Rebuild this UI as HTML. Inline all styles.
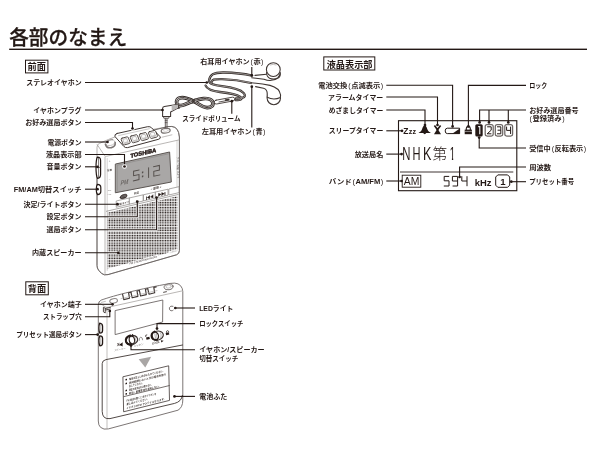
<!DOCTYPE html>
<html lang="ja">
<head>
<meta charset="utf-8">
<title>各部のなまえ</title>
<style>
html,body{margin:0;padding:0;background:#fff;}
body{width:600px;height:450px;overflow:hidden;position:relative;font-family:"Liberation Sans","Noto Sans CJK JP",sans-serif;color:#231815;}
svg{position:absolute;left:0;top:0;display:block;will-change:transform;}
text{font-family:"Liberation Sans","Noto Sans CJK JP",sans-serif;fill:#231815;}
.lb{font-size:7px;font-weight:700;}
.ld{fill:none;stroke:#231815;stroke-width:1.1;}
.pr{font-weight:400;}
.dot{fill:#231815;stroke:none;}
.hd{font-size:9.4px;font-weight:700;}
.bx{fill:#fff;stroke:#231815;stroke-width:1;}
</style>
</head>
<body>
<svg width="600" height="450" viewBox="0 0 600 450">

<!-- ===== title ===== -->
<g id="title">
<text x="9.2" y="44.6" font-size="20.2" font-weight="500" textLength="118" lengthAdjust="spacingAndGlyphs" style="stroke:#231815;stroke-width:0.3px">各部のなまえ</text>
<rect x="9.2" y="48.6" width="577.8" height="1.4" fill="#231815"/>
</g>

<!-- ===== section heads ===== -->
<g id="heads">
<rect class="bx" x="25.5" y="60.2" width="22.4" height="12.7"/>
<text class="hd" x="36.7" y="70.2" text-anchor="middle" textLength="18.4" lengthAdjust="spacingAndGlyphs">前面</text>
<rect class="bx" x="25.8" y="281.8" width="22.5" height="13"/>
<text class="hd" x="37" y="291.9" text-anchor="middle" textLength="18.4" lengthAdjust="spacingAndGlyphs">背面</text>
<rect class="bx" x="323.8" y="56.9" width="51" height="13.1"/>
<text class="hd" x="349.6" y="67.7" text-anchor="middle" textLength="45.8" lengthAdjust="spacingAndGlyphs">液晶表示部</text>
</g>

<!--FRONT_START-->
<!-- ===== front view ===== -->
<g id="front" stroke-linejoin="round" stroke-linecap="round">
<path d="M97 147Q97 144.4 99.4 143.4Q108 139.4 118 135.8L168 126.7Q176.5 125.2 178.6 132.5L179.4 137V250.6Q179.4 253.8 176.5 254.8L108 274.6Q104 275.6 101.5 273.4L98.6 270.2Q97 268.2 97 265.6Z" fill="#fff" stroke="#aaa6a4" stroke-width="0.9"/>
<path d="M97 170V265.6Q97 268.2 98.6 270.2L101.5 273.4Q104 275.6 108 274.6L176.5 254.8Q179.4 253.8 179.4 250.6V137L178.6 132.5Q176.5 125.2 168 126.6L152 130.5" fill="none" stroke="#6d6765" stroke-width="1"/>
<path d="M97.2 144.6L104.4 155.4Q105.2 156.6 106.8 156.2L179 139.9" fill="none" stroke="#a8a4a2" stroke-width="0.8"/>
<path d="M105 157V274" fill="none" stroke="#a8a4a2" stroke-width="0.8"/>
<polyline points="107.2,158.5 107.2,270.4" stroke="#a8a4a2" stroke-width="0.5" fill="none"/>
<polyline points="177.0,140.4 177.0,191.6" stroke="#a8a4a2" stroke-width="0.5" fill="none"/>
<path d="M97.2 157.2Q100.6 157 100.6 160.5V174.5Q100.6 178 97.6 178.4Q96 176 96 167.5Q96 160 97.2 157.2Z" fill="#fff" stroke="#231815" stroke-width="1.2"/>
<path d="M96.2 167.4H100.4M98.6 158V177.6" fill="none" stroke="#3e3532" stroke-width="0.7"/>
<path d="M97.4 184.4Q100.8 184.6 100.8 187.4V191.4Q100.8 194.2 97.6 194.6Q96.2 192.6 96.2 189.4Q96.2 186.2 97.4 184.4Z" fill="#fff" stroke="#231815" stroke-width="1.2"/>
<ellipse cx="110.2" cy="142.6" rx="4.6" ry="2.9" transform="rotate(-14 110.2 142.6)" fill="#fff" stroke="#bdbab9" stroke-width="0.8"/>
<path d="M107.6 141.2Q109.4 139.6 112.6 139.8" fill="none" stroke="#8a8583" stroke-width="1.1"/>
<path d="M105.4 144.2Q106.6 148.6 111.4 147.6Q115.6 146.6 115.2 142.6" fill="none" stroke="#7d7775" stroke-width="1.6"/>
<path d="M117 133.5L147.6 126.7Q150.2 126.3 151.6 127.8L160 136.6Q161.2 138.4 158.8 139.2L127.6 147.6Q125.4 148 124 146.6L115 136.6Q114 134.4 117 133.5Z" fill="#fff" stroke="#3e3532" stroke-width="1"/>
<path d="M118.6 135.6L149.4 128.7" fill="none" stroke="#a8a4a2" stroke-width="0.6"/>
<g transform="translate(0.00 -0.00)">
<path d="M122 138.2L126.9 136.9Q127.9 136.7 128.3 137.6L130.1 142.2Q130.4 143.2 129.4 143.5L124.4 144.9Q123.4 145.1 123 144.2L121.2 139.6Q120.9 138.6 122 138.2Z" fill="#fff" stroke="#3e3532" stroke-width="0.9"/>
<path d="M123.2 139.3L126.6 138.4L128.3 142.5L124.8 143.5Z" fill="#fbfbfb" stroke="#8a8583" stroke-width="0.5"/>
<path d="M124.8 143.5L128.3 142.5L127.8 141.3L124.4 142.3Z" fill="#c4c1c0" stroke="none"/>
</g>
<g transform="translate(9.10 -2.15)">
<path d="M122 138.2L126.9 136.9Q127.9 136.7 128.3 137.6L130.1 142.2Q130.4 143.2 129.4 143.5L124.4 144.9Q123.4 145.1 123 144.2L121.2 139.6Q120.9 138.6 122 138.2Z" fill="#fff" stroke="#3e3532" stroke-width="0.9"/>
<path d="M123.2 139.3L126.6 138.4L128.3 142.5L124.8 143.5Z" fill="#fbfbfb" stroke="#8a8583" stroke-width="0.5"/>
<path d="M124.8 143.5L128.3 142.5L127.8 141.3L124.4 142.3Z" fill="#c4c1c0" stroke="none"/>
</g>
<g transform="translate(18.20 -4.30)">
<path d="M122 138.2L126.9 136.9Q127.9 136.7 128.3 137.6L130.1 142.2Q130.4 143.2 129.4 143.5L124.4 144.9Q123.4 145.1 123 144.2L121.2 139.6Q120.9 138.6 122 138.2Z" fill="#fff" stroke="#3e3532" stroke-width="0.9"/>
<path d="M123.2 139.3L126.6 138.4L128.3 142.5L124.8 143.5Z" fill="#fbfbfb" stroke="#8a8583" stroke-width="0.5"/>
<path d="M124.8 143.5L128.3 142.5L127.8 141.3L124.4 142.3Z" fill="#c4c1c0" stroke="none"/>
</g>
<g transform="translate(27.30 -6.45)">
<path d="M122 138.2L126.9 136.9Q127.9 136.7 128.3 137.6L130.1 142.2Q130.4 143.2 129.4 143.5L124.4 144.9Q123.4 145.1 123 144.2L121.2 139.6Q120.9 138.6 122 138.2Z" fill="#fff" stroke="#3e3532" stroke-width="0.9"/>
<path d="M123.2 139.3L126.6 138.4L128.3 142.5L124.8 143.5Z" fill="#fbfbfb" stroke="#8a8583" stroke-width="0.5"/>
<path d="M124.8 143.5L128.3 142.5L127.8 141.3L124.4 142.3Z" fill="#c4c1c0" stroke="none"/>
</g>
<circle cx="132.5" cy="128.6" r="2.2" fill="#fff"/>
<ellipse cx="165.7" cy="130.7" rx="4.5" ry="2.3" transform="rotate(-8 165.7 130.7)" fill="#fff" stroke="#77716f" stroke-width="1.2"/>
<ellipse cx="165.7" cy="130.6" rx="2.4" ry="1" transform="rotate(-8 165.7 130.6)" fill="#fff" stroke="#c4c1c0" stroke-width="0.5"/>
<path d="M162 137.2L172 134.8" fill="none" stroke="#a8a4a2" stroke-width="0.7" stroke-dasharray="1.2 0.6"/>
<text transform="translate(130.4 157.9) skewY(-13) " x="0" y="0" font-size="5.8" font-weight="700" textLength="25.8" lengthAdjust="spacingAndGlyphs" style="fill:#231815;stroke:#231815;stroke-width:0.45px">TOSHIBA</text>
<polygon points="115.7,164.0 169.6,152.0 171.3,182.0 115.7,192.7" fill="#a9a7a6" stroke="#5b5552" stroke-width="1"/>
<polyline points="117.2,191.2 117.2,165.2 168.6,153.8" fill="none" stroke="#8a8684" stroke-width="0.6"/>
<g transform="translate(133 180.9) skewY(-12.5)" fill="none" stroke="#544e4b" stroke-width="0.95" stroke-linecap="square" stroke-linejoin="miter">
<path d="M6 -9.6H0.6V-5H6V0H0.4"/>
<path d="M9.6 -6.6V-6.2M9.6 -2.6V-2.2" stroke-width="1.4"/>
<path d="M15.6 -9.6V0"/>
<path d="M20.6 -9.6H26.4V-5H20.8V0H26.8"/>
</g>
<text transform="translate(120.6 185.4) skewY(-12.5)" font-size="6.8" font-style="italic" textLength="7.8" lengthAdjust="spacingAndGlyphs" style="fill:#544e4b">PM</text>
<text x="109.6" y="162.0" font-size="3" text-anchor="middle" style="fill:#8a8684">+</text>
<text x="109.6" y="180.7" font-size="3" text-anchor="middle" style="fill:#8a8684">−</text>
<text x="109.6" y="171.3" font-size="2.6" text-anchor="middle" style="fill:#4a4441">音量</text>
<text x="109.4" y="190.5" font-size="2.4" text-anchor="middle" style="fill:#6d6765">FM</text>
<text x="109.4" y="194.5" font-size="2.4" text-anchor="middle" style="fill:#6d6765">AM</text>
<text transform="translate(177.2 157) rotate(90)" font-size="2.6" textLength="21" lengthAdjust="spacingAndGlyphs" style="fill:#5b5552">ワイドFM対応 TY-SPR</text>
<path d="M120.2 197.4Q120.4 195.4 122.6 194.8L125.2 194.2Q127 194 127 195.6Q126.8 197.6 124.6 198.2L122 198.8Q120.2 199 120.2 197.4Z" fill="#3e3532" stroke="#231815" stroke-width="0.6"/>
<path d="M121.6 196.2L126 195.2M121.4 197.4L125.8 196.4" fill="none" stroke="#b9b6b5" stroke-width="0.4"/>
<polygon points="116.6,200.9 129.6,197.9 129.6,204.1 116.6,207.2" fill="#fff" stroke="#8a8583" stroke-width="0.7"/>
<polygon points="129.6,197.9 143.2,194.8 143.2,201.0 129.6,204.1" fill="#fff" stroke="#8a8583" stroke-width="0.7"/>
<polygon points="143.8,194.7 155.6,192.0 155.6,198.1 143.8,200.8" fill="#fff" stroke="#8a8583" stroke-width="0.7"/>
<polygon points="155.6,192.0 168.0,189.2 168.0,195.2 155.6,198.1" fill="#fff" stroke="#8a8583" stroke-width="0.7"/>
<polygon points="169.2,188.9 179.0,186.7 179.0,192.6 169.2,194.9" fill="#fff" stroke="#8a8583" stroke-width="0.7"/>
<text transform="translate(123.0 204.3) skewY(-13)" font-size="2.5" font-weight="700" text-anchor="middle" style="fill:#3e3532">決定/ライト</text>
<circle cx="136.5" cy="200.6" r="0.4" fill="#5b5552"/>
<text transform="translate(136.5 193.9) skewY(-13)" font-size="2.6" font-weight="700" text-anchor="middle" style="fill:#4a4441">設定</text>
<text transform="translate(156.0 189.1) skewY(-13)" font-size="2.9" font-weight="700" text-anchor="middle" style="fill:#3e3532">− 選局 +</text>
<text transform="translate(149.8 198.3) skewY(-13)" font-size="3.4" font-weight="700" text-anchor="middle" textLength="7.4" lengthAdjust="spacingAndGlyphs" style="fill:#231815;stroke:#231815;stroke-width:0.3px">|◀◀</text>
<text transform="translate(161.8 195.5) skewY(-13)" font-size="3.4" font-weight="700" text-anchor="middle" textLength="7.4" lengthAdjust="spacingAndGlyphs" style="fill:#231815;stroke:#231815;stroke-width:0.3px">▶▶|</text>
<polyline points="106.4,211.3 178.2,194.5" fill="none" stroke="#8a8583" stroke-width="0.7"/>
<clipPath id="gclip"><polygon points="107.6,212.8 177.4,196.3 177.4,250.4 107.6,268.4"/></clipPath>
<path d="M107.3 194.20H178.6M107.3 195.85H178.6M107.3 197.50H178.6M107.3 199.15H178.6M107.3 200.80H178.6M107.3 202.45H178.6M107.3 204.10H178.6M107.3 205.75H178.6M107.3 207.40H178.6M107.3 209.05H178.6M107.3 210.70H178.6M107.3 212.35H178.6M107.3 214.00H178.6M107.3 215.65H178.6M107.3 217.30H178.6M107.3 218.95H178.6M107.3 220.60H178.6M107.3 222.25H178.6M107.3 223.90H178.6M107.3 225.55H178.6M107.3 227.20H178.6M107.3 228.85H178.6M107.3 230.50H178.6M107.3 232.15H178.6M107.3 233.80H178.6M107.3 235.45H178.6M107.3 237.10H178.6M107.3 238.75H178.6M107.3 240.40H178.6M107.3 242.05H178.6M107.3 243.70H178.6M107.3 245.35H178.6M107.3 247.00H178.6M107.3 248.65H178.6M107.3 250.30H178.6M107.3 251.95H178.6M107.3 253.60H178.6M107.3 255.25H178.6M107.3 256.90H178.6M107.3 258.55H178.6M107.3 260.20H178.6M107.3 261.85H178.6M107.3 263.50H178.6M107.3 265.15H178.6M107.3 266.80H178.6M107.3 268.45H178.6M107.3 270.10H178.6M107.3 271.75H178.6" fill="none" stroke="#2b2320" stroke-width="1.05" stroke-dasharray="1.05 0.6" stroke-linecap="butt" clip-path="url(#gclip)"/>
<path d="M107 216.8H137.3V207M107 229.8H156.6V202M107 252.8H118.2" fill="none" stroke="#fff" stroke-width="2.6" stroke-linecap="butt" clip-path="url(#gclip)"/>
<polygon points="129,265.6 158,258 158,254.6 129,262.2" fill="#fff" stroke="none"/>
<text transform="translate(129.6 264.6) skewY(-14.6)" font-size="2.6" font-weight="700" textLength="27.6" lengthAdjust="spacingAndGlyphs" style="fill:#6d6765">FM STEREO/AM RADIO</text>
<polygon points="168.6,254.4 177.4,252.2 177.4,249 168.6,251.2" fill="#fff" stroke="none"/>
<text transform="translate(169.4 253.4) skewY(-14.6)" font-size="2.3" textLength="7" lengthAdjust="spacingAndGlyphs" style="fill:#8a8684">TY-SPR4</text>
</g>
<!--FRONT_END-->
<!--EAR_START-->
<!-- ===== stereo earphones ===== -->
<g id="earphones" fill="none" stroke-linecap="round" stroke-linejoin="round">
<!-- cables : dark tube with light core -->
<g stroke="#352d2a" stroke-width="2.3">
<path d="M252 75.6C245 74 235 72.7 224 72.5S210 75 209 80.5C209 84 214 85.2 222 86.2S240 89 243.6 93S243 98.6 236 98.3"/>
<path d="M251 83C243 81 232 79.3 222 79.1S212.4 80 211.6 82.2"/>
<path d="M205.6 85.6C207 89 212 91 220 92S236 94 240 96.6S239.4 100.6 235.6 100"/>
</g>
<g stroke="#d6d3d2" stroke-width="0.6">
<path d="M252 75.6C245 74 235 72.7 224 72.5S210 75 209 80.5C209 84 214 85.2 222 86.2S240 89 243.6 93S243 98.6 236 98.3"/>
<path d="M251 83C243 81 232 79.3 222 79.1S212.4 80 211.6 82.2"/>
<path d="M205.6 85.6C207 89 212 91 220 92S236 94 240 96.6S239.4 100.6 235.6 100"/>
</g>
<!-- right-ear bud (upper) -->
<path d="M255 75.4L266.6 74.3M251.6 77.7L264 79.2Q272 82.6 279.2 77.2Q280.7 75.6 280 72.6" stroke="#3e3532" stroke-width="1.1"/>
<path d="M266.6 72.4Q266.4 76.4 269.6 78.2Q273.6 80 277.6 78Q280.4 76 280 72.4" fill="#fff" stroke="#3e3532" stroke-width="1.1"/>
<circle cx="273.3" cy="69.6" r="6.9" fill="#fff" stroke="#3e3532" stroke-width="1.1"/>
<path d="M270.4 64.9Q273.2 63.6 276 64.9" stroke="#a8a4a2" stroke-width="0.7"/>
<!-- left-ear bud (lower) -->
<circle cx="273.8" cy="98" r="6.7" fill="#fff" stroke="#3e3532" stroke-width="1.1"/>
<path d="M251 82.8Q262 83.6 270 85.4Q279.6 88 280.6 95L280.3 97.4Q273.8 100.6 267.2 97.2V93Q267 89.2 263.5 88.2L255.6 86.6" fill="#fff" stroke="#3e3532" stroke-width="1.1"/>
<!-- slide volume -->
<path d="M216 100.2L232.4 97.2Q234.6 97 234.8 98.8Q234.8 100.6 232.8 101L216.6 104Q214.2 104.2 214 102.4Q214 100.6 216 100.2Z" fill="#fff" stroke="#3e3532" stroke-width="0.9"/>
<path d="M219 102L229.4 100.1" stroke="#3e3532" stroke-width="0.8"/>
<path d="M225.6 100.1L228.6 99.5" stroke="#3e3532" stroke-width="1.6"/>
<!-- bundled cord (bow) -->
<path d="M178.6 106.8C175.4 103.4 176 99.4 179.6 98C183.6 96.6 188.6 98.6 193.3 101C198.4 103.6 202.4 107.4 207 107.6C211.4 107.8 213.6 105.4 212.8 102.4C212 99.4 207.6 98.2 203.4 98.6C199.4 99 196.4 100 193.3 101C189.4 102.4 185.4 104.6 182.6 105.2C180.8 105.6 179.6 105.6 178.8 105.4" stroke="#352d2a" stroke-width="3.7"/>
<path d="M178.6 106.8C175.4 103.4 176 99.4 179.6 98C183.6 96.6 188.6 98.6 193.3 101C198.4 103.6 202.4 107.4 207 107.6C211.4 107.8 213.6 105.4 212.8 102.4C212 99.4 207.6 98.2 203.4 98.6C199.4 99 196.4 100 193.3 101C189.4 102.4 185.4 104.6 182.6 105.2C180.8 105.6 179.6 105.6 178.8 105.4" stroke="#cfcccb" stroke-width="1.9"/>
<path d="M178.6 106.8C175.4 103.4 176 99.4 179.6 98C183.6 96.6 188.6 98.6 193.3 101C198.4 103.6 202.4 107.4 207 107.6C211.4 107.8 213.6 105.4 212.8 102.4C212 99.4 207.6 98.2 203.4 98.6C199.4 99 196.4 100 193.3 101C189.4 102.4 185.4 104.6 182.6 105.2C180.8 105.6 179.6 105.6 178.8 105.4" stroke="#352d2a" stroke-width="0.9"/>
<path d="M191.6 98.6L195 103.6M195 98.6L191.8 103.6" stroke="#352d2a" stroke-width="0.8"/>
<!-- plug -->
<path d="M165.3 118V127.4M167 118V127.4" stroke="#3e3532" stroke-width="0.8"/>
<path d="M165.2 120.4H167.1M165.2 122.6H167.1" stroke="#3e3532" stroke-width="0.6"/>
<path d="M163.8 116.4H169.2L168.8 118.2H164.2Z" fill="#fff" stroke="#3e3532" stroke-width="0.8"/>
<path d="M162.6 108.6Q162.6 106.9 164.4 106.6L176.6 104.5Q178.6 104.4 178.7 106.2Q178.8 107.8 177.4 108.4L170.6 112V116.4H162.6Z" fill="#fff" stroke="#3e3532" stroke-width="1.05"/>
<path d="M171.6 105.6L177.6 104.6Q178.6 106 177.4 108.2L171.8 111Z" fill="#b9b6b5" stroke="none"/>
</g>
<!--EAR_END-->
<!--BACK_START-->
<!-- ===== back view ===== -->
<g id="back" fill="none" stroke-linejoin="round" stroke-linecap="round">
<path d="M98.3 305Q98.3 301.2 101.2 300.1C115 295.2 140 288.9 170.5 283.4Q179.6 281.8 182.2 288.4L182.8 291.5V400Q182.8 407.4 178 410.2L108.4 428.9Q103.6 430 100.6 427.4Q98.3 425.4 98.3 421.4Z" fill="#fff" stroke="#6d6765" stroke-width="0.9"/>
<path d="M98.6 302.4L105.6 307Q106.8 307.6 108.4 307.2L182.6 290.8" stroke="#a8a4a2" stroke-width="0.8"/>
<path d="M107 308V428.6" stroke="#a8a4a2" stroke-width="0.7"/>
<ellipse cx="113.6" cy="300.9" rx="3.9" ry="2.2" transform="rotate(-12 113.6 300.9)" fill="#fff" stroke="#8a8583" stroke-width="1.1"/>
<path d="M101.4 302.4L105.4 301.4" stroke="#a8a4a2" stroke-width="0.7"/>
<path d="M103.4 307.6V311.8L105.2 313V308.6ZM105.4 308.4L110.4 307.4M105.4 310L110.4 309" stroke="#3e3532" stroke-width="0.9"/>
<path d="M122.6 294.3L123.8 299.6L129.5 298.2L128.6 292.8L131.0 292.3" stroke="#3e3532" stroke-width="1.15"/>
<path d="M131.0 292.5L132.2 297.8L137.9 296.4L137.0 291.0L139.4 290.5" stroke="#3e3532" stroke-width="1.15"/>
<path d="M139.4 290.7L140.6 296.0L146.3 294.6L145.4 289.2L147.8 288.7" stroke="#3e3532" stroke-width="1.15"/>
<path d="M147.8 288.9L149.0 294.2L154.7 292.8L153.8 287.4L156.2 286.9" stroke="#3e3532" stroke-width="1.15"/>
<path d="M121 298.6L157 290.6" stroke="#a8a4a2" stroke-width="0.6"/>
<ellipse cx="168.6" cy="286.9" rx="4.5" ry="2.9" transform="rotate(-10 168.6 286.9)" fill="#fff" stroke="#6d6765" stroke-width="0.9"/>
<ellipse cx="168.6" cy="286.5" rx="2.7" ry="1.6" transform="rotate(-10 168.6 286.5)" stroke="#a8a4a2" stroke-width="0.6"/>
<path d="M163.6 292.3L166.4 291.7" stroke="#3e3532" stroke-width="0.9"/>
<polygon points="115.5,310.5 162.8,300.0 162.6,322.0 115.5,334.5" fill="#fff" stroke="#6d6765" stroke-width="0.9"/>
<path d="M173 306.2Q170.4 305.4 169.4 307.6Q168.8 310 171 310.8Q172.4 311 173.2 310.2" stroke="#6d6765" stroke-width="0.9"/>
<ellipse cx="157.4" cy="335.6" rx="6" ry="4.5" transform="rotate(-14 157.4 335.6)" fill="#fff" stroke="#3e3532" stroke-width="1.2"/>
<path d="M154.6 331.6Q150.6 333.4 151.8 337.2Q153 340.2 157 339.8" stroke="#231815" stroke-width="2"/>
<ellipse cx="155.4" cy="335.9" rx="3.1" ry="3.7" transform="rotate(-12 155.4 335.9)" fill="#fff" stroke="#231815" stroke-width="1.1"/>
<path d="M154.8 333.6L155.5 338.4M156.4 333.2L157.1 338" stroke="#6d6765" stroke-width="0.5"/>
<path d="M159.6 331.8Q162 333.6 160.8 337.6" stroke="#6d6765" stroke-width="0.5"/>
<rect x="146.2" y="337" width="3.4" height="2.4" transform="rotate(-14 148 338)" fill="#231815" stroke="none"/>
<path d="M145.6 336.6Q145 334.6 146.8 334.8" stroke="#231815" stroke-width="0.7"/>
<rect x="165.8" y="332.6" width="3.2" height="2.4" transform="rotate(-14 167.4 333.6)" fill="#231815" stroke="none"/>
<path d="M166.4 332.4Q166.2 330.6 167.6 330.6Q168.8 330.8 168.8 332" stroke="#231815" stroke-width="0.7"/>
<text transform="translate(152.2 344.5) rotate(-13)" font-size="2.9" font-weight="700" textLength="7.8" lengthAdjust="spacingAndGlyphs" style="fill:#3e3532">LOCK</text>
<path d="M160.8 340.2L163.6 340.8L161.4 342.6Z" fill="#231815" stroke="none"/>
<ellipse cx="131.7" cy="340.1" rx="6" ry="4.6" transform="rotate(-14 131.7 340.1)" fill="#fff" stroke="#3e3532" stroke-width="1.2"/>
<path d="M129.6 335.8Q125 337.6 126 341.6Q127 344.6 131 344.6" stroke="#231815" stroke-width="2"/>
<ellipse cx="131.9" cy="340" rx="2.7" ry="3.8" transform="rotate(-8 131.9 340)" fill="#fff" stroke="#231815" stroke-width="1.1"/>
<path d="M134.8 336.8Q136.4 339.4 134.8 342.6" stroke="#6d6765" stroke-width="0.5"/>
<path d="M130.4 334.8L130.9 336.8M132.6 334.4L132.9 336.4" stroke="#231815" stroke-width="0.9"/>
<path d="M119.6 344L120.8 343.7L122.6 342.2V346.4L120.8 345.4L119.6 345.6Z" fill="#231815" stroke="none"/>
<path d="M117.6 343.4L119 345.6M119 343.2L117.6 345.8" stroke="#231815" stroke-width="0.6"/>
<path d="M139.2 340.4Q138.8 337.4 140.8 337.2Q142.6 337.2 142.6 339.8" stroke="#6d6765" stroke-width="0.7"/>
<text transform="translate(114.2 351.6) rotate(-13)" font-size="2.5" textLength="12" lengthAdjust="spacingAndGlyphs" style="fill:#77716f">スピーカー</text>
<text transform="translate(134 347.2) rotate(-13)" font-size="2.5" textLength="10" lengthAdjust="spacingAndGlyphs" style="fill:#77716f">イヤホン</text>
<path d="M99.6 323.2Q102.6 323.6 102.6 326.2V330.8Q102.6 333 99.8 333.2Q98.9 331 98.9 328.2Q98.9 325.2 99.6 323.2Z" fill="#fff" stroke="#231815" stroke-width="1.2"/>
<path d="M99.8 335.8Q102.6 336 102.6 338.2V343.2Q102.6 345.6 99.8 345.8Q98.9 343.6 98.9 340.8Q98.9 337.8 99.8 335.8Z" fill="#fff" stroke="#231815" stroke-width="1.2"/>
<path d="M100.9 324.4V332.2M100.9 337V344.8" stroke="#6d6765" stroke-width="0.6"/>
<path d="M182.6 345L106 359.6Q102.2 360.4 102.2 363.6V411.4Q102.4 419.6 110 418.6L174.6 403.4Q181.6 401.6 182.4 395.4" stroke="#3e3532" stroke-width="0.9"/>
<polygon points="138.7,359.2 151.2,356.7 145.3,367.5" fill="#a9a6a5" stroke="none"/>
<polygon points="123.3,376.7 168.7,365.8 169.5,400.4 124.0,411.7" fill="#fff" stroke="#3e3532" stroke-width="0.8"/>
<path d="M123.9 396.6L169.2 385.6" stroke="#3e3532" stroke-width="0.7"/>
<rect x="125.5" y="379.1" width="1.5" height="1.5" transform="skewY(-13.4)" fill="#231815" stroke="none" style="transform-box:fill-box;transform-origin:0 0"/>
<text transform="translate(129 380.3) skewY(-13.4)" font-size="2.7" font-weight="700" textLength="35.5" lengthAdjust="spacingAndGlyphs" style="fill:#3e3532">電池は正しい向きに入れてください。</text>
<rect x="125.5" y="382.9" width="1.5" height="1.5" transform="skewY(-13.4)" fill="#231815" stroke="none" style="transform-box:fill-box;transform-origin:0 0"/>
<text transform="translate(129 384.1) skewY(-13.4)" font-size="2.7" font-weight="700" textLength="37.2" lengthAdjust="spacingAndGlyphs" style="fill:#3e3532">長時間使わないときは電池を取り</text>
<text transform="translate(129 387.3) skewY(-13.4)" font-size="2.7" font-weight="700" textLength="15" lengthAdjust="spacingAndGlyphs" style="fill:#3e3532">出してください。</text>
<rect x="125.5" y="389.9" width="1.5" height="1.5" transform="skewY(-13.4)" fill="#231815" stroke="none" style="transform-box:fill-box;transform-origin:0 0"/>
<text transform="translate(129 391.1) skewY(-13.4)" font-size="2.7" font-weight="700" textLength="24" lengthAdjust="spacingAndGlyphs" style="fill:#3e3532">指定の電池以外は使わない。</text>
<rect x="125.5" y="393.3" width="1.5" height="1.5" transform="skewY(-13.4)" fill="#231815" stroke="none" style="transform-box:fill-box;transform-origin:0 0"/>
<text transform="translate(129 394.5) skewY(-13.4)" font-size="2.7" font-weight="700" textLength="31.8" lengthAdjust="spacingAndGlyphs" style="fill:#3e3532">新旧・異種電池を混用しない。</text>
<text transform="translate(126.4 401.8) skewY(-13.4)" font-size="2.7" font-weight="700" textLength="30" lengthAdjust="spacingAndGlyphs" style="fill:#4a4441">FM 放送を聞くときはイヤホンを</text>
<text transform="translate(126.4 405.2) skewY(-13.4)" font-size="2.7" font-weight="700" textLength="22.8" lengthAdjust="spacingAndGlyphs" style="fill:#4a4441">差し込んでください。</text>
<text transform="translate(126.4 409.2) skewY(-13.4)" font-size="2.7" font-weight="700" textLength="39.6" lengthAdjust="spacingAndGlyphs" style="fill:#4a4441">イヤホンがFM アンテナになります。</text>
</g>
<!--BACK_END-->
<!--LCD_START-->
<!-- ===== LCD panel ===== -->
<g id="lcd">
<rect x="398.5" y="120.7" width="118.3" height="70" fill="#fff" stroke="#231815" stroke-width="1.1"/>
<path d="M400 172H513.3" stroke="#3e3532" stroke-width="1" fill="none"/>
<!-- Zzz -->
<text x="403.3" y="134" font-size="8.6" font-weight="700" textLength="5.2" lengthAdjust="spacingAndGlyphs">Z</text>
<text x="408.8" y="134" font-size="7" font-weight="700" textLength="7.2" lengthAdjust="spacingAndGlyphs">zz</text>
<!-- bell -->
<path d="M424.7 125.2C426.6 126 427 128.4 427.7 130C428.4 131.4 429.6 132 430.9 132.9H418.5C419.8 132 421 131.4 421.7 130C422.4 128.4 422.8 126 424.7 125.2Z" fill="#231815"/>
<path d="M423 132.8Q424.7 135.6 426.4 132.8Z" fill="#231815"/>
<!-- hourglass / alarm -->
<path d="M434.4 125.6L437.5 129.6L440.6 125.6" fill="none" stroke="#231815" stroke-width="1.6"/>
<path d="M437.5 128.6L441 134.2H434Z" fill="#231815"/>
<path d="M435.6 128.6L437.4 130.6L439.2 128.6Z" fill="#231815"/>
<!-- battery -->
<path d="M447.3 128.2H459.6V133.6H447.3Q445.2 133.6 445.2 130.9Q445.2 128.2 447.3 128.2Z" fill="#fff" stroke="#231815" stroke-width="1"/>
<path d="M459.8 128.4V133.8H452.2Z" fill="#231815"/>
<!-- lock -->
<path d="M466.3 130V128.3Q466.3 126.6 468.3 126.6Q470.3 126.6 470.3 128.3V130" fill="none" stroke="#231815" stroke-width="1.1"/>
<rect x="464.7" y="129.6" width="7.2" height="4.6" fill="#231815"/>
<path d="M464.7 131.4H471.9" stroke="#fff" stroke-width="0.5"/>
<!-- preset digits -->
<rect x="475.3" y="124.2" width="7.4" height="12.2" rx="1.5" fill="#231815"/>
<path d="M478.2 126.6H479.8V134.2" fill="none" stroke="#fff" stroke-width="1.1"/>
<rect x="485.2" y="124.6" width="8" height="11.4" rx="1.9" fill="#fff" stroke="#6d6765" stroke-width="1.25"/>
<rect x="495.3" y="124.6" width="7.4" height="11.4" rx="1.9" fill="#fff" stroke="#6d6765" stroke-width="1.25"/>
<rect x="504.8" y="124.6" width="7.8" height="11.4" rx="1.9" fill="#fff" stroke="#6d6765" stroke-width="1.25"/>
<path d="M487.2 126.8H491.2V130.2L487.2 133.8H491.4" fill="none" stroke="#231815" stroke-width="1"/>
<path d="M497 126.8H500.8V133.8H497M497.6 130.2H500.8" fill="none" stroke="#231815" stroke-width="1"/>
<path d="M506.6 126.6V130.4H510.6M510.6 126.6V134" fill="none" stroke="#231815" stroke-width="1"/>
<!-- station name -->
<g font-size="17.6" style="stroke:none">
<text x="402.2" y="160" textLength="8.2" lengthAdjust="spacingAndGlyphs">N</text>
<text x="412.6" y="160" textLength="8" lengthAdjust="spacingAndGlyphs">H</text>
<text x="423" y="160" textLength="8.4" lengthAdjust="spacingAndGlyphs">K</text>
<text x="432.6" y="159.4" font-size="14.6" font-weight="300" style="stroke:none">第</text>
<text x="449.8" y="160" textLength="5.4" lengthAdjust="spacingAndGlyphs">1</text>
</g>
<!-- footfix --><rect x="449.2" y="157.6" width="2.7" height="3" fill="#fff"/><rect x="453.2" y="157.6" width="2.8" height="3" fill="#fff"/>
<!-- band -->
<rect x="402.2" y="175.2" width="18.6" height="12" fill="#fff" stroke="#231815" stroke-width="0.9"/>
<text x="403.8" y="185.4" font-size="11.8" textLength="15.6" lengthAdjust="spacingAndGlyphs">AM</text>
<!-- frequency -->
<path d="M449.2 176.4H444.2V180.8H449V186H443.8" fill="none" stroke="#231815" stroke-width="1"/>
<path d="M457.6 181H452.4V176.4H457.6V186H452.6" fill="none" stroke="#231815" stroke-width="1"/>
<path d="M461.8 176.2V181H467M467 176.2V186.2" fill="none" stroke="#231815" stroke-width="1"/>
<text x="474.8" y="185.7" font-size="8.6" font-weight="700" textLength="16.8" lengthAdjust="spacingAndGlyphs">kHz</text>
<path d="M497.8 174.9H507.6L509.7 177V185.2L507.6 187.3H497.8L495.7 185.2V177Z" fill="#fff" stroke="#231815" stroke-width="1"/>
<text x="502.8" y="185" font-size="9.6" font-weight="700" text-anchor="middle">1</text>
</g>
<!--LCD_END-->
<!--LABELS_START-->
<!-- ===== labels and leader lines ===== -->
<g id="labels-front">
<text class="lb" x="81.6" y="85.0" text-anchor="end" textLength="55.4" lengthAdjust="spacingAndGlyphs">ステレオイヤホン</text>
<path class="ld" d="M85 82.5H206.8"/>
<circle class="dot" cx="206.8" cy="82.5" r="1.35"/>
<text class="lb" x="81.6" y="112.5" text-anchor="end" textLength="48.4" lengthAdjust="spacingAndGlyphs">イヤホンプラグ</text>
<path class="ld" d="M85 110H162.5"/>
<circle class="dot" cx="162.5" cy="110" r="1.35"/>
<text class="lb" x="81.6" y="125.0" text-anchor="end" textLength="56.4" lengthAdjust="spacingAndGlyphs">お好み選局ボタン</text>
<path class="ld" d="M85 122.5H132.5V128.5"/>
<circle class="dot" cx="132.5" cy="128.5" r="1.35"/>
<text class="lb" x="81.6" y="144.5" text-anchor="end" textLength="34.2" lengthAdjust="spacingAndGlyphs">電源ボタン</text>
<path class="ld" d="M85 142H107.5"/>
<circle class="dot" cx="107.5" cy="142" r="1.35"/>
<text class="lb" x="81.6" y="157.0" text-anchor="end" textLength="35.6" lengthAdjust="spacingAndGlyphs">液晶表示部</text>
<path class="ld" d="M85 154.5H124.5V166.5"/>
<text class="lb" x="81.6" y="169.3" text-anchor="end" textLength="35" lengthAdjust="spacingAndGlyphs">音量ボタン</text>
<path class="ld" d="M85 166.8H97.5"/>
<circle class="dot" cx="97.5" cy="166.8" r="1.35"/>
<text class="lb" x="81.6" y="191.7" text-anchor="end" textLength="67.8" lengthAdjust="spacingAndGlyphs">FM/AM切替スイッチ</text>
<path class="ld" d="M85 189.2H97.5"/>
<circle class="dot" cx="97.5" cy="189.2" r="1.35"/>
<text class="lb" x="81.6" y="206.7" text-anchor="end" textLength="58" lengthAdjust="spacingAndGlyphs">決定/ライトボタン</text>
<path class="ld" d="M85 204.2H117.5"/>
<circle class="dot" cx="117.5" cy="204.2" r="1.35"/>
<text class="lb" x="81.6" y="219.3" text-anchor="end" textLength="35" lengthAdjust="spacingAndGlyphs">設定ボタン</text>
<path class="ld" d="M85 216.8H137.3V201.6"/>
<circle class="dot" cx="137.3" cy="201.6" r="1.35"/>
<text class="lb" x="81.6" y="232.3" text-anchor="end" textLength="35" lengthAdjust="spacingAndGlyphs">選局ボタン</text>
<path class="ld" d="M85 229.8H156.6V197.6"/>
<circle class="dot" cx="156.6" cy="197.6" r="1.35"/>
<text class="lb" x="81.6" y="255.3" text-anchor="end" textLength="49.6" lengthAdjust="spacingAndGlyphs">内蔵スピーカー</text>
<path class="ld" d="M85 252.8H118.2"/>
<circle class="dot" cx="118.2" cy="252.8" r="1.35"/>
<circle cx="124.5" cy="166.5" r="2.3" fill="#fff"/><circle class="dot" cx="124.5" cy="166.5" r="1.35"/>
<text class="lb" x="200.2" y="64.2" textLength="63.3" lengthAdjust="spacingAndGlyphs">右耳用イヤホン<tspan class="pr" dx="0.9">(</tspan><tspan dx="0.5">赤</tspan><tspan class="pr" dx="0.5">)</tspan></text>
<path class="ld" d="M251.8 67V75.3"/>
<circle class="dot" cx="251.8" cy="75.3" r="1.35"/>
<text class="lb" x="182.2" y="121.3" textLength="58.2" lengthAdjust="spacingAndGlyphs">スライドボリューム</text>
<path class="ld" d="M231.8 113.8V101.2"/>
<circle class="dot" cx="231.8" cy="101.2" r="1.35"/>
<text class="lb" x="201.8" y="133.7" textLength="63.7" lengthAdjust="spacingAndGlyphs">左耳用イヤホン<tspan class="pr" dx="0.9">(</tspan><tspan dx="0.5">青</tspan><tspan class="pr" dx="0.5">)</tspan></text>
<path class="ld" d="M251.8 127.4V86.7"/>
<circle class="dot" cx="251.8" cy="86.7" r="1.35"/>
</g>
<g id="labels-back">
<text class="lb" x="81.7" y="306.8" text-anchor="end" textLength="41.7" lengthAdjust="spacingAndGlyphs">イヤホン端子</text>
<path class="ld" d="M85 304.3H112.5"/>
<circle class="dot" cx="112.5" cy="304.3" r="1.35"/>
<text class="lb" x="81.7" y="319.2" text-anchor="end" textLength="38.7" lengthAdjust="spacingAndGlyphs">ストラップ穴</text>
<path class="ld" d="M85 316.7H109.8V311"/>
<circle class="dot" cx="109.8" cy="311" r="1.35"/>
<text class="lb" x="81.7" y="337.1" text-anchor="end" textLength="65.5" lengthAdjust="spacingAndGlyphs">プリセット選局ボタン</text>
<path class="ld" d="M85 334.6H97.6"/>
<circle class="dot" cx="97.6" cy="334.6" r="1.35"/>
<text class="lb" x="199.2" y="310.5" textLength="34.2" lengthAdjust="spacingAndGlyphs">LEDライト</text>
<path class="ld" d="M195 308H175.3"/>
<circle class="dot" cx="175.3" cy="308" r="1.35"/>
<text class="lb" x="199.2" y="326.1" textLength="44.2" lengthAdjust="spacingAndGlyphs">ロックスイッチ</text>
<path class="ld" d="M195 323.6H157V328.6"/>
<circle class="dot" cx="157" cy="328.6" r="1.35"/>
<text class="lb" x="199.2" y="351.7" textLength="65.5" lengthAdjust="spacingAndGlyphs">イヤホン/スピーカー</text>
<text class="lb" x="199.2" y="360.5" textLength="39.2" lengthAdjust="spacingAndGlyphs">切替スイッチ</text>
<path class="ld" d="M195 349.8H131V345.4"/>
<circle class="dot" cx="131" cy="345.4" r="1.35"/>
<text class="lb" x="199.2" y="399.0">電池ふた</text>
<path class="ld" d="M195 396.4H174.5"/>
<circle class="dot" cx="174.5" cy="396.4" r="1.35"/>
</g>
<g id="labels-lcd">
<text class="lb" x="383.3" y="87.8" text-anchor="end" textLength="65" lengthAdjust="spacingAndGlyphs">電池交換<tspan class="pr" dx="0.9">(</tspan><tspan dx="0.5">点滅表示</tspan><tspan class="pr" dx="0.5">)</tspan></text>
<path class="ld" d="M386.3 85.3H452.6V126.4"/>
<circle class="dot" cx="452.6" cy="126.4" r="1.35"/>
<text class="lb" x="383.3" y="99.5" text-anchor="end" textLength="55.3" lengthAdjust="spacingAndGlyphs">アラームタイマー</text>
<path class="ld" d="M386.3 97H437.5V125"/>
<circle class="dot" cx="437.5" cy="125" r="1.35"/>
<text class="lb" x="383.3" y="112.5" text-anchor="end" textLength="54.6" lengthAdjust="spacingAndGlyphs">めざましタイマー</text>
<path class="ld" d="M386.3 110H425V125"/>
<circle class="dot" cx="425" cy="125" r="1.35"/>
<text class="lb" x="383.3" y="133.3" text-anchor="end" textLength="54.6" lengthAdjust="spacingAndGlyphs">スリープタイマー</text>
<path class="ld" d="M386.3 130.8H402"/>
<circle class="dot" cx="402" cy="130.8" r="1.35"/>
<text class="lb" x="383.3" y="156.6" text-anchor="end" textLength="28.6" lengthAdjust="spacingAndGlyphs">放送局名</text>
<path class="ld" d="M386.3 154.1H401.6"/>
<circle class="dot" cx="401.6" cy="154.1" r="1.35"/>
<text class="lb" x="383.3" y="183.5" text-anchor="end" textLength="54.6" lengthAdjust="spacingAndGlyphs">バンド<tspan class="pr" dx="0.6">(</tspan><tspan dx="0.4">AM/FM</tspan><tspan class="pr" dx="0.4">)</tspan></text>
<path class="ld" d="M386.3 181H401.6"/>
<circle class="dot" cx="401.6" cy="181" r="1.35"/>
<text class="lb" x="529.2" y="87.9" textLength="18" lengthAdjust="spacingAndGlyphs">ロック</text>
<path class="ld" d="M526 85.4H468.4V126.4"/>
<circle class="dot" cx="468.4" cy="126.4" r="1.35"/>
<text class="lb" x="529.2" y="112.5" textLength="49.4" lengthAdjust="spacingAndGlyphs">お好み選局番号</text>
<text class="lb" x="529.6" y="120.8" textLength="35" lengthAdjust="spacingAndGlyphs"><tspan class="pr">(</tspan><tspan dx="0.5">登録済み</tspan><tspan class="pr" dx="0.5">)</tspan></text>
<path class="ld" d="M526 110H479.6V122.4M489 110V122.4M508.3 110V122.4"/>
<circle class="dot" cx="479.6" cy="122.4" r="1.35"/>
<circle class="dot" cx="489" cy="122.4" r="1.35"/>
<circle class="dot" cx="508.3" cy="122.4" r="1.35"/>
<text class="lb" x="529.2" y="150.5" textLength="57" lengthAdjust="spacingAndGlyphs">受信中<tspan class="pr" dx="0.9">(</tspan><tspan dx="0.5">反転表示</tspan><tspan class="pr" dx="0.5">)</tspan></text>
<path class="ld" d="M526 148H479.2V137.6"/>
<circle class="dot" cx="479.2" cy="137.6" r="1.35"/>
<text class="lb" x="529.2" y="169.5" textLength="22" lengthAdjust="spacingAndGlyphs">周波数</text>
<path class="ld" d="M526 167H459.6V177"/>
<circle class="dot" cx="459.6" cy="177" r="1.35"/>
<text class="lb" x="529.2" y="184.2" textLength="45" lengthAdjust="spacingAndGlyphs">プリセット番号</text>
<path class="ld" d="M526 181.7H511.3"/>
<circle class="dot" cx="511.3" cy="181.7" r="1.35"/>
</g>
<!--LABELS_END-->
</svg>
</body>
</html>
